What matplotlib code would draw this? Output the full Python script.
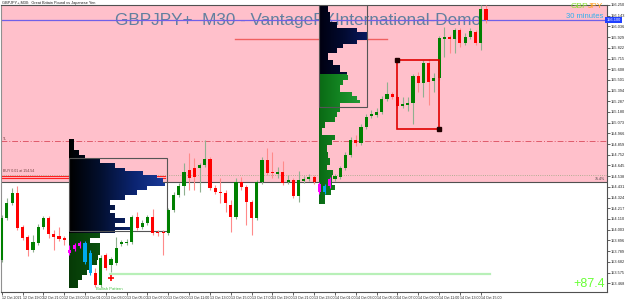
import numpy as np
import pandas as pd
import matplotlib
matplotlib.use("Agg")
import matplotlib.pyplot as plt
from matplotlib.colors import LinearSegmentedColormap
from matplotlib.patches import Polygon, Rectangle

plt.rcParams['font.family'] = ['Liberation Sans', 'DejaVu Sans']

# GBPJPY M30 candles, 12 Oct 17:00 -> 14 Oct 15:30
opens = [153.70, 154.12, 154.27, 154.37, 154.03, 153.93, 153.80, 153.87, 154.03, 154.12,
         153.96, 153.94, 153.92, 153.80, 153.81, 153.84, 153.87, 153.77, 153.57, 153.45,
         153.75, 153.65, 153.67, 153.86, 153.87, 153.88, 154.13, 154.03, 154.07, 154.13,
         153.98, 153.98, 153.97, 154.20, 154.35, 154.44, 154.60, 154.62, 154.62, 154.65,
         154.71, 154.42, 154.38, 154.37, 154.25, 154.13, 154.48, 154.43, 154.28, 154.12,
         154.48, 154.70, 154.58, 154.56, 154.58, 154.48, 154.50, 154.34, 154.49, 154.51,
         154.53, 154.46, 154.38, 154.44, 154.51, 154.53, 154.62, 154.75, 154.90, 154.87,
         155.03, 155.14, 155.15, 155.18, 155.31, 155.36, 155.33, 155.24, 155.25, 155.27,
         155.54, 155.47, 155.67, 155.49, 155.52, 155.91, 155.93, 155.91, 156.00, 155.87,
         155.93, 155.98, 155.87, 156.21]
highs = [154.15, 154.32, 154.42, 154.44, 154.05, 153.95, 153.95, 154.06, 154.14, 154.14,
         154.00, 154.03, 153.94, 153.85, 153.87, 153.89, 153.89, 153.80, 153.62, 153.75,
         153.77, 153.73, 153.93, 153.90, 153.91, 154.15, 154.18, 154.10, 154.15, 154.21,
         154.00, 154.00, 154.22, 154.38, 154.47, 154.67, 154.77, 154.72, 154.67, 154.90,
         154.73, 154.45, 154.52, 154.40, 154.30, 154.52, 154.53, 154.45, 154.30, 154.50,
         154.73, 154.82, 154.78, 154.63, 154.69, 154.55, 154.52, 154.59, 154.54, 154.56,
         154.55, 154.48, 154.46, 154.53, 154.56, 154.64, 154.78, 154.93, 154.95, 155.06,
         155.16, 155.20, 155.22, 155.34, 155.48, 155.38, 155.35, 155.33, 155.33, 155.56,
         155.58, 155.70, 155.71, 155.57, 155.94, 156.03, 155.95, 156.02, 156.02, 155.97,
         156.02, 156.00, 156.25, 156.25]
lows = [153.68, 154.10, 154.25, 154.00, 153.90, 153.74, 153.78, 153.85, 154.01, 153.92,
        153.80, 153.89, 153.85, 153.75, 153.79, 153.82, 153.66, 153.55, 153.43, 153.43,
        153.60, 153.58, 153.65, 153.84, 153.85, 153.86, 154.00, 154.01, 154.05, 153.95,
        153.94, 153.75, 153.95, 154.18, 154.33, 154.35, 154.40, 154.40, 154.38, 154.63,
        154.40, 154.36, 154.27, 154.18, 153.98, 154.11, 154.40, 154.05, 153.95, 154.10,
        154.46, 154.55, 154.52, 154.52, 154.45, 154.46, 154.32, 154.28, 154.47, 154.49,
        154.46, 154.36, 154.36, 154.42, 154.49, 154.51, 154.60, 154.73, 154.84, 154.85,
        155.01, 155.12, 155.13, 155.16, 155.29, 155.31, 155.22, 155.22, 155.19, 155.06,
        155.38, 155.33, 155.25, 155.38, 155.50, 155.73, 155.77, 155.77, 155.83, 155.85,
        155.91, 155.85, 155.80, 156.07]
closes = [154.12, 154.27, 154.37, 154.02, 153.92, 153.80, 153.88, 154.03, 154.12, 153.96,
          153.93, 153.91, 153.90, 153.77, 153.85, 153.87, 153.68, 153.57, 153.45, 153.72,
          153.62, 153.71, 153.82, 153.88, 153.88, 154.13, 154.02, 154.07, 154.13, 153.97,
          153.97, 153.97, 154.20, 154.35, 154.44, 154.58, 154.52, 154.53, 154.65, 154.71,
          154.42, 154.38, 154.37, 154.27, 154.13, 154.48, 154.43, 154.28, 154.12, 154.48,
          154.70, 154.57, 154.57, 154.58, 154.47, 154.50, 154.34, 154.50, 154.51, 154.53,
          154.48, 154.38, 154.44, 154.51, 154.54, 154.62, 154.75, 154.90, 154.87, 155.03,
          155.13, 155.16, 155.18, 155.31, 155.36, 155.33, 155.24, 155.26, 155.27, 155.54,
          155.47, 155.67, 155.48, 155.52, 155.92, 155.93, 155.91, 156.00, 155.87, 155.93,
          155.99, 155.87, 156.21, 156.10]
magenta_idx = [13, 14, 15, 61, 63]
cyan_idx = [16, 17, 62]

# volume profile 1 (lower left) and 2 (upper middle): bin edges (price) and widths (px)
prof1_edges = [154.91, 154.80, 154.75, 154.72, 154.67, 154.62, 154.59, 154.55, 154.52, 154.47,
               154.44, 154.40, 154.35, 154.30, 154.25, 154.20, 154.17, 154.12, 154.07, 154.03,
               154.00, 153.97, 153.92, 153.87, 153.80, 153.75, 153.70, 153.65, 153.60, 153.55,
               153.50, 153.42]
prof1_vol = [5, 10, 16, 31, 46, 56, 74, 88, 94, 96, 78, 68, 56, 41, 46, 41, 46, 56, 46, 61,
             46, 31, 21, 31, 31, 29, 28, 23, 18, 13, 9]
prof2_edges = [156.25, 156.18, 156.08, 156.02, 155.98, 155.90, 155.86, 155.82, 155.77, 155.70,
               155.65, 155.58, 155.55, 155.50, 155.45, 155.38, 155.34, 155.30, 155.27, 155.23,
               155.18, 155.13, 155.08, 155.02, 154.95, 154.90, 154.85, 154.78, 154.72, 154.65,
               154.60, 154.55, 154.45, 154.40, 154.35, 154.26]
prof2_vol = [9, 11, 18, 38, 48, 38, 24, 18, 9, 14, 21, 28, 29, 24, 21, 33, 38, 41, 21, 21,
             18, 16, 6, 3, 16, 13, 8, 9, 11, 8, 14, 13, 16, 12, 6]

current_price = 156.10
zone_low = 154.48
buy_levels = [154.54, 154.52]
dotted_level = 154.55
tl_level = 154.89
poc2_level = 155.915
target_level = 153.555
rect_x = [76, 84]
rect_p = [155.01, 155.70]

PX = 1 / 5.207  # one pixel in bar units

fig = plt.figure(figsize=(6.25, 3.0), dpi=100)
ax = fig.add_axes([1 / 625, 8.5 / 300, 605.5 / 625, 286.5 / 300])
ax.set_facecolor('white')

ax.axhspan(zone_low, 156.30, color='#ffc0cb', zorder=0, lw=0)

ax.text(115 / 625, 1 - 21 / 300, 'GBPJPY+  M30 - VantageFXInternational-Demo',
        transform=fig.transFigure, fontsize=12.3, color='#62809e', va='center', ha='left', zorder=1)

# horizontal lines
ax.axhline(current_price, color='#7060e8', lw=0.9, zorder=2)
ax.axhline(zone_low, color='#505050', lw=0.8, zorder=2)
ax.axhline(dotted_level, color='#9aa880', lw=0.6, ls=':', zorder=2)
ax.axhline(tl_level, color='#e05a6a', lw=0.7, ls=(0, (6, 2, 1, 2)), zorder=2)
for lvl in buy_levels:
    ax.plot([-0.2, 31.4], [lvl, lvl], color='#ff2020', lw=0.8, zorder=2)
ax.plot([44.8, 74.0], [poc2_level, poc2_level], color='#f06060', lw=1.0, zorder=2)
ax.plot([20.8, 93.8], [target_level, target_level], color='#b8f0b8', lw=1.6, zorder=2)


def draw_profile(x0, edges, vols, split, cmap_hi, cmap_lo):
    xs = x0 + np.array(vols) * PX
    verts = [(x0, edges[0])]
    for i, w in enumerate(xs):
        verts.append((w, edges[i]))
        verts.append((w, edges[i + 1]))
    verts.append((x0, edges[-1]))
    poly = Polygon(verts, closed=True, facecolor='none', edgecolor='none')
    ax.add_patch(poly)
    grad = np.linspace(0, 1, 256).reshape(1, -1)
    for cmap, lo, hi in [(cmap_hi, split, edges[0]), (cmap_lo, edges[-1], split)]:
        im = ax.imshow(grad, cmap=cmap, extent=[x0, xs.max(), lo, hi], aspect='auto',
                       origin='lower', interpolation='bilinear', zorder=3)
        im.set_clip_path(poly)


navy1 = LinearSegmentedColormap.from_list('n1', ['#000000', '#031030', '#0b2470', '#1a3a9a'])
green1 = LinearSegmentedColormap.from_list('g1', ['#063a06', '#0d5e12', '#1a7f22'])
navy2 = LinearSegmentedColormap.from_list('n2', ['#000010', '#020a30', '#0a1a60'])
green2 = LinearSegmentedColormap.from_list('g2', ['#0a6a14', '#158a25', '#2aa040'])
draw_profile(12.92, prof1_edges, prof1_vol, 153.97, navy1, green1)
draw_profile(60.94, prof2_edges, prof2_vol, 155.55, navy2, green2)

ax.add_patch(Rectangle((12.92, 153.99), 31.7 - 12.92, 154.72 - 153.99,
                       fill=False, ec='#555555', lw=0.8, zorder=3.5))
ax.add_patch(Rectangle((60.94, 155.23), 70.15 - 60.94, 156.25 - 155.23,
                       fill=False, ec='#555555', lw=0.8, zorder=3.5))

# candles
o = np.array(opens)
c = np.array(closes)
idx = np.arange(len(o))
up = c >= o
body_col = np.where(up, '#008000', '#ff0000')
wick_col = np.where(up, '#8fb08f', '#ff8a8a')
for i in magenta_idx:
    body_col[i] = '#ff00ff'
    wick_col[i] = '#ff00ff'
for i in cyan_idx:
    body_col[i] = '#00aaee'
    wick_col[i] = '#00aaee'
ax.vlines(idx, lows, highs, colors=wick_col, lw=0.8, zorder=4)
ax.bar(idx, np.maximum(np.abs(c - o), 0.012), bottom=np.minimum(o, c), width=0.6,
       color=body_col, lw=0, zorder=5)

ax.add_patch(Rectangle((rect_x[0], rect_p[0]), rect_x[1] - rect_x[0], rect_p[1] - rect_p[0],
                       fill=False, ec='#e00000', lw=1.2, zorder=6))
ax.plot([rect_x[0], rect_x[1]], [rect_p[1], rect_p[0]], 's', color='#200000', ms=2.2, zorder=7)
ax.plot([21], [153.52], '+', color='red', ms=4, mew=1.2, zorder=6)

# small labels
ax.text(0.3, 154.575, 'BUY 0.01 at 154.54', fontsize=2.6, color='#704040', zorder=6)
ax.text(0.3, 154.90, 'TL', fontsize=2.6, color='#704040', zorder=6)
ax.text(115.9, 154.505, '75.4%', fontsize=2.6, color='#404040', ha='right', zorder=6)
ax.text(18.2, 153.40, 'Bullish Pattern', fontsize=3, color='#40c040', zorder=6)

ax.text(603 / 625, 1 - 17 / 300, '30 minutes', transform=fig.transFigure,
        fontsize=5.5, color='#30b0ee', ha='right', va='center', zorder=8)
ax.text(603 / 625, 1 - 7 / 300, 'JPY', transform=fig.transFigure,
        fontsize=6, color='#ffa020', ha='right', va='center', zorder=8)
ax.text(588 / 625, 1 - 7 / 300, 'GBP', transform=fig.transFigure,
        fontsize=6, color='#88e030', ha='right', va='center', zorder=8)
ax.text(605 / 625, 1 - 284 / 300, '+87.4', transform=fig.transFigure,
        fontsize=9, color='#66ff33', ha='right', va='center', zorder=8)

fig.text(0.004, 0.997, 'GBPJPY+,M30:  Great Britain Pound vs Japanese Yen',
         fontsize=2.8, va='top', color='#202020')

# axes
ax.set_xlim(-0.134, 116.15)
ax.set_ylim(153.385, 156.25)

times = pd.date_range('2021-10-12 17:00', periods=len(o), freq='30min')
xt = idx[::4]
xl = [times[0].strftime('%d %b %Y')] + [t.strftime('%d %b %H:%M') for t in times[4::4]]
ax.set_xticks(xt)
ax.set_xticklabels(xl, fontsize=2.6, ha='left')
ax.tick_params(axis='x', length=2, width=0.5, pad=1, colors='#202020')

ax.yaxis.tick_right()
yt = [156.25 - 0.107 * k for k in range(27)]
ax.set_yticks(yt)
ax.set_yticklabels(['%.3f' % v for v in yt], fontsize=2.8)
ax.tick_params(axis='y', length=2, width=0.5, pad=1, colors='#202020')

ax.text(1.0, current_price, '%.3f' % current_price, transform=ax.get_yaxis_transform(),
        fontsize=2.8, color='white', va='center', ha='left',
        bbox=dict(boxstyle='square,pad=0.3', fc='#2040ff', ec='none'), zorder=9, clip_on=False)

for s in ax.spines.values():
    s.set_color('#505050')
    s.set_linewidth(0.8)
ax.spines['left'].set_color('#909090')

fig.savefig('out.png', dpi=100)
